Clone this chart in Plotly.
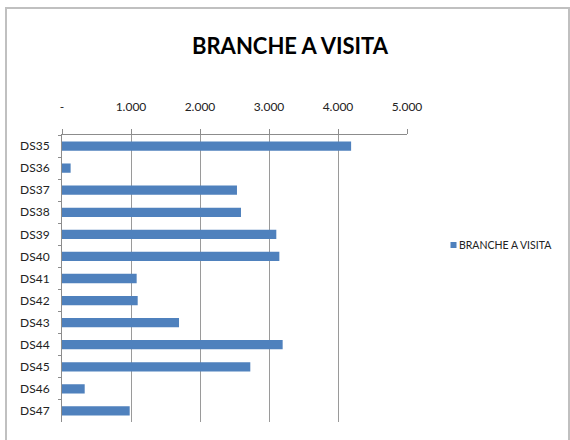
import plotly.graph_objects as go

categories = ["DS35", "DS36", "DS37", "DS38", "DS39", "DS40", "DS41",
              "DS42", "DS43", "DS44", "DS45", "DS46", "DS47"]
values = [4190, 125, 2536, 2594, 3106, 3150, 1082, 1097, 1696, 3198, 2729, 329, 981]
tick_vals = [0, 1000, 2000, 3000, 4000, 5000]
tick_text = ["-", "1.000", "2.000", "3.000", "4.000", "5.000"]
series_name = "BRANCHE A VISITA"
bar_color = "#4F81BD"

FONT = "Lato, Open Sans, sans-serif"

L, R, T, B = 62, 163, 135, 18
PW, PH = 570 - L - R, 440 - T - B


def px(x):
    return (x - L) / PW


def py(y):
    return 1 - (y - T) / PH


fig = go.Figure()
fig.add_trace(go.Bar(
    y=categories, x=values, orientation="h", name=series_name,
    marker=dict(color=bar_color, line=dict(width=0)),
    showlegend=False,
))

fig.update_layout(
    width=570, height=440,
    paper_bgcolor="white", plot_bgcolor="white",
    margin=dict(l=L, r=R, t=T, b=B, autoexpand=False),
    bargap=0.58,
    title=dict(text="<b>BRANCHE A VISITA</b>", x=290 / 570, xanchor="center",
               y=1 - 46.5 / 440, yanchor="middle",
               font=dict(family=FONT, size=22, color="#000000")),
    font=dict(family=FONT, size=12, color="#222222"),
    xaxis=dict(side="top", range=[0, 5000], tickvals=tick_vals, ticktext=tick_text,
               showgrid=True, gridcolor="#9a9a9a", gridwidth=1,
               showline=True, linecolor="#8c8c8c", linewidth=1,
               ticks="outside", ticklen=5, tickcolor="#8c8c8c",
               ticklabelstandoff=13, zeroline=False, automargin=False,
               tickfont=dict(family=FONT, size=12, color="#222222")),
    yaxis=dict(autorange="reversed", showline=True, linecolor="#8c8c8c", linewidth=1,
               ticks="outside", ticklen=3, tickcolor="#8c8c8c",
               tickson="boundaries", showgrid=False, automargin=False,
               ticklabelstandoff=9,
               tickfont=dict(family=FONT, size=12, color="#222222")),
    showlegend=False,
    annotations=[dict(text=series_name, xref="paper", yref="paper",
                      x=px(457), y=py(245), xanchor="left", yanchor="middle",
                      showarrow=False,
                      font=dict(family=FONT, size=10.5, color="#222222"))],
    shapes=[
        dict(type="rect", xref="paper", yref="paper",
             x0=px(6), x1=px(569), y0=py(447), y1=py(8),
             line=dict(color="#c0c0c0", width=2), layer="below"),
        dict(type="rect", xref="paper", yref="paper",
             x0=px(450.5), x1=px(456.5), y0=py(248), y1=py(242),
             line=dict(width=0), fillcolor=bar_color),
    ],
)

fig.write_html("out.html", config={"displayModeBar": False},
               post_script="document.body.style.margin='0';document.body.style.overflow='hidden';")
